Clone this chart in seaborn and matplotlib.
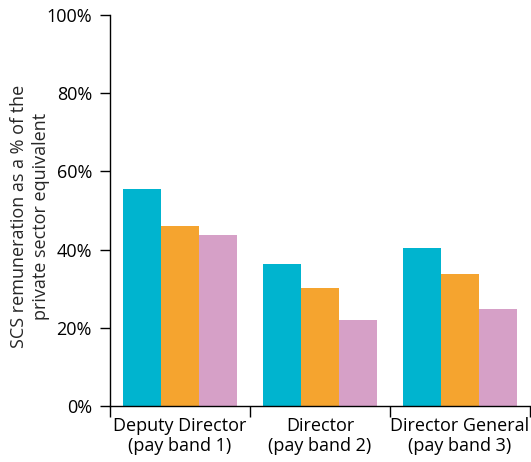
import pandas as pd
import matplotlib
matplotlib.use("Agg")
import matplotlib.pyplot as plt
import seaborn as sns
from matplotlib.ticker import FixedLocator, PercentFormatter

# values (percent of private sector equivalent)
grades = ["Deputy Director\n(pay band 1)", "Director\n(pay band 2)", "Director General\n(pay band 3)"]
series = ["A", "B", "C"]
series_a = [55.5, 36.3, 40.4]
series_b = [46.0, 30.2, 33.8]
series_c = [43.7, 22.0, 24.8]
colours = ["#00b4cf", "#f5a42f", "#d6a0c7"]

df = pd.DataFrame({
    "grade": grades * 3,
    "series": [s for s in series for _ in grades],
    "value": series_a + series_b + series_c,
})

sns.set_style("ticks")
plt.rcParams["font.family"] = ["Open Sans", "DejaVu Sans"]

fig = plt.figure(figsize=(5.31, 4.62), dpi=100)
ax = fig.add_axes([0.2072, 0.1212, 0.7908, 0.8463])

sns.barplot(data=df, x="grade", y="value", hue="series", palette=colours,
            width=0.81, saturation=1, legend=False, ax=ax, linewidth=0)

ax.set_xlim(-0.5, 2.5)
ax.set_ylim(0, 100)
ax.set_yticks(range(0, 101, 20))
ax.yaxis.set_major_formatter(PercentFormatter(decimals=0))
ax.xaxis.set_minor_locator(FixedLocator([-0.5, 0.5, 1.5, 2.5]))
ax.tick_params(axis="x", which="major", length=0, labelsize=13, pad=8, colors="black")
ax.tick_params(axis="x", which="minor", length=8, width=1, direction="out", color="black")
ax.tick_params(axis="y", length=7, width=1, labelsize=13, pad=6, colors="black")
for lab in ax.get_xticklabels():
    lab.set_linespacing(1.15)
ax.set_xlabel("")
ylab = ax.set_ylabel("SCS remuneration as a % of the\nprivate sector equivalent", fontsize=13,
                     linespacing=1.25)
ylab.set_verticalalignment("center")
ax.yaxis.set_label_coords(-0.19, 0.485)
for side in ["top", "right"]:
    ax.spines[side].set_visible(False)
for side in ["left", "bottom"]:
    ax.spines[side].set_color("black")
    ax.spines[side].set_linewidth(1)

fig.savefig("out.png", dpi=100)
